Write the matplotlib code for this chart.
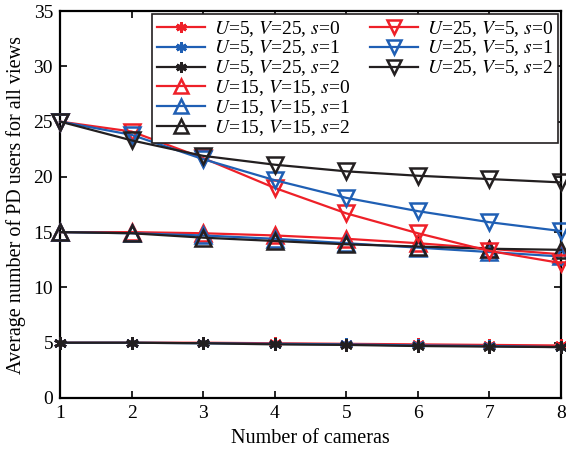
import matplotlib
matplotlib.use("Agg")
import matplotlib.pyplot as plt
from matplotlib.lines import Line2D

plt.rcParams['font.family'] = ['Liberation Serif', 'DejaVu Serif']
plt.rcParams['mathtext.fontset'] = 'stix'

cameras = [1, 2, 3, 4, 5, 6, 7, 8]

# U=5, V=25
u5_s0 = [5.0, 5.0, 5.0, 4.95, 4.9, 4.85, 4.8, 4.75]
u5_s1 = [5.0, 5.0, 4.95, 4.9, 4.85, 4.75, 4.7, 4.6]
u5_s2 = [5.0, 5.0, 4.95, 4.85, 4.8, 4.7, 4.65, 4.6]
# U=15, V=15
u15_s0 = [15.0, 15.0, 14.9, 14.7, 14.4, 14.0, 13.5, 13.0]
u15_s1 = [15.0, 14.9, 14.7, 14.4, 14.0, 13.6, 13.2, 12.8]
u15_s2 = [15.0, 14.9, 14.5, 14.2, 13.9, 13.7, 13.5, 13.4]
# U=25, V=5
u25_s0 = [25.0, 24.1, 21.7, 19.0, 16.7, 14.9, 13.3, 12.2]
u25_s1 = [25.0, 23.8, 21.6, 19.7, 18.1, 16.9, 15.9, 15.1]
u25_s2 = [25.0, 23.3, 21.9, 21.1, 20.5, 20.1, 19.8, 19.5]

labels = [
    r'$U$=5, $V$=25, $s$=0', r'$U$=5, $V$=25, $s$=1', r'$U$=5, $V$=25, $s$=2',
    r'$U$=15, $V$=15, $s$=0', r'$U$=15, $V$=15, $s$=1', r'$U$=15, $V$=15, $s$=2',
    r'$U$=25, $V$=5, $s$=0', r'$U$=25, $V$=5, $s$=1', r'$U$=25, $V$=5, $s$=2',
]

RED = '#ee2028'
BLUE = '#1f5fb4'
BLACK = '#231f20'
colors = [RED, BLUE, BLACK]

fig = plt.figure(figsize=(5.66, 4.5), dpi=100)
ax = fig.add_axes([60 / 566, 52 / 450, 501 / 566, 387 / 450])

series = [u5_s0, u5_s1, u5_s2, u15_s0, u15_s1, u15_s2, u25_s0, u25_s1, u25_s2]
markers = [(6, 2, 0)] * 3 + ['^'] * 3 + ['v'] * 3
handles = []
for i, (ys, mk, lab) in enumerate(zip(series, markers, labels)):
    c = colors[i % 3]
    if i < 3:
        h, = ax.plot(cameras, ys, color=c, lw=1.6, marker=mk, ms=9,
                     mew=2.0, label=lab, clip_on=False, zorder=3)
    else:
        h, = ax.plot(cameras, ys, color=c, lw=1.6, marker=mk, ms=12,
                     mew=1.8, mfc='none', mec=c, label=lab, clip_on=False, zorder=3)
    handles.append(h)

ax.set_xlim(1, 8)
ax.set_ylim(0, 35)
ax.set_xticks(cameras)
ax.set_yticks(range(0, 36, 5))
ax.tick_params(direction='in', labelsize=14, width=1.2, length=5,
               top=True, right=True, pad=5)
for sp in ax.spines.values():
    sp.set_linewidth(1.6)

ax.set_xlabel('Number of cameras', fontsize=14.5, labelpad=5)
ax.set_ylabel('Average number of PD users for all views', fontsize=14.5, labelpad=5)

# first column holds six entries, second column the remaining three
blank = Line2D([], [], linestyle='none', marker='none')
leg_handles = handles + [blank] * 3
leg_labels = labels + [''] * 3
leg = ax.legend(leg_handles, leg_labels, loc='upper right', ncol=2, fontsize=14,
                frameon=True, fancybox=False, edgecolor=BLACK, framealpha=1,
                handlelength=2.5, handletextpad=0.45, labelspacing=0.0,
                columnspacing=1.0, borderpad=0.25, borderaxespad=0.15,
                markerscale=0.85)
leg.get_frame().set_linewidth(1.2)

fig.savefig('out.png', dpi=100)
